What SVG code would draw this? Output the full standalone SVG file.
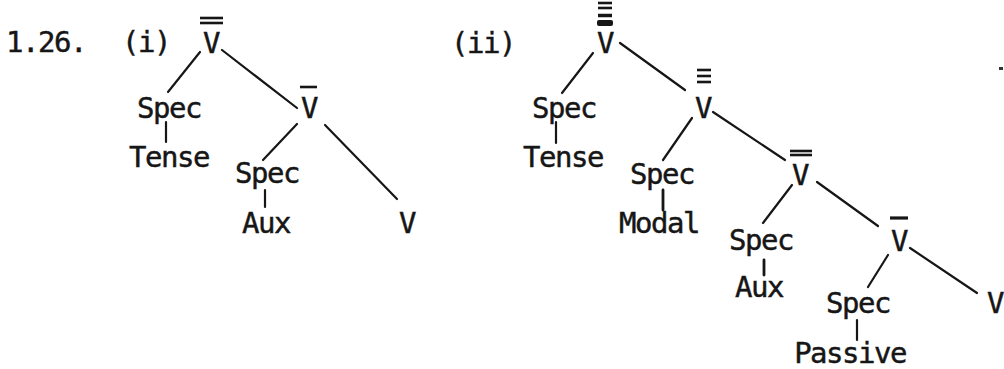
<svg xmlns="http://www.w3.org/2000/svg" width="1004" height="369" viewBox="0 0 1004 369">
<style>
text{font-family:"DejaVu Sans Mono","Liberation Mono",monospace;font-size:29px;fill:#161616;stroke:#161616;stroke-width:0.45;text-anchor:middle;letter-spacing:-1.5px}
.c line{stroke:#161616;stroke-width:2.2;stroke-linecap:round}
.bar{stroke:#161616;stroke-width:2.6}
</style>
<rect width="1004" height="369" fill="#ffffff"/>
<g id="labels">
<text x="46" y="52">1.26.</text>
<text x="146" y="52">(i)</text>
<text x="483" y="53">(ii)</text>
</g>
<g id="i-Vbarbar"><text x="211" y="53">V</text><line class="bar" x1="200" y1="18" x2="223" y2="18"/><line class="bar" x1="200" y1="23" x2="223" y2="23"/></g>
<g id="i-Spec1"><text x="169" y="118">Spec</text></g>
<g id="i-Tense"><text x="169" y="167">Tense</text></g>
<g id="i-Vbar"><text x="309" y="118">V</text><line class="bar" x1="300" y1="87" x2="317" y2="87"/></g>
<g id="i-Spec2"><text x="267" y="183">Spec</text></g>
<g id="i-Aux"><text x="266" y="233">Aux</text></g>
<g id="i-V"><text x="407" y="233">V</text></g>
<g id="ii-V4"><text x="605" y="53">V</text>
<line class="bar" x1="598" y1="3" x2="612" y2="3"/><line class="bar" x1="598" y1="8" x2="612" y2="8"/><line class="bar" x1="598" y1="15.5" x2="612" y2="15.5" style="stroke-width:3.5"/><rect x="597" y="20" width="16" height="6" rx="2" fill="#161616"/></g>
<g id="ii-Spec1"><text x="564" y="118">Spec</text></g>
<g id="ii-Tense"><text x="563" y="167">Tense</text></g>
<g id="ii-V3"><text x="703" y="118">V</text>
<line class="bar" x1="697" y1="70" x2="711" y2="70"/><line class="bar" x1="697" y1="76" x2="711" y2="76"/><line class="bar" x1="697" y1="82" x2="711" y2="82"/></g>
<g id="ii-Spec2"><text x="662" y="184">Spec</text></g>
<g id="ii-Modal"><text x="659" y="233">Modal</text></g>
<g id="ii-V2"><text x="800" y="185">V</text>
<line class="bar" x1="790" y1="151" x2="812" y2="151"/><line class="bar" x1="790" y1="155" x2="812" y2="155"/></g>
<g id="ii-Spec3"><text x="761" y="250">Spec</text></g>
<g id="ii-Aux"><text x="759" y="297">Aux</text></g>
<g id="ii-V1"><text x="899" y="251">V</text><line class="bar" x1="890" y1="218" x2="908" y2="218" style="stroke-width:3.2"/></g>
<g id="ii-Spec4"><text x="858" y="313">Spec</text></g>
<g id="ii-Passive"><text x="850" y="363">Passive</text></g>
<g id="ii-V"><text x="995" y="313">V</text></g>
<g id="speck"><rect x="999" y="67" width="4" height="3" fill="#333"/></g>
<g id="connectors" class="c">
<line x1="200" y1="52" x2="168" y2="92"/>
<line x1="222" y1="50" x2="297" y2="108"/>
<line x1="166" y1="122" x2="166" y2="142"/>
<line x1="297" y1="124" x2="263" y2="160"/>
<line x1="325" y1="125" x2="397" y2="199"/>
<line x1="265" y1="190" x2="265" y2="207"/>
<line x1="593" y1="53" x2="562" y2="93"/>
<line x1="620" y1="43" x2="685" y2="90"/>
<line x1="556" y1="122" x2="556" y2="143"/>
<line x1="692" y1="118" x2="663" y2="160"/>
<line x1="713" y1="112" x2="785" y2="160"/>
<line x1="663" y1="190" x2="663" y2="210" style="stroke-width:2.8"/>
<line x1="792" y1="185" x2="763" y2="223"/>
<line x1="817" y1="182" x2="878" y2="226"/>
<line x1="764" y1="260" x2="764" y2="275" style="stroke-width:2.8"/>
<line x1="888" y1="255" x2="868" y2="287"/>
<line x1="910" y1="248" x2="977" y2="293"/>
<line x1="857" y1="320" x2="857" y2="340"/>
</g>
</svg>
